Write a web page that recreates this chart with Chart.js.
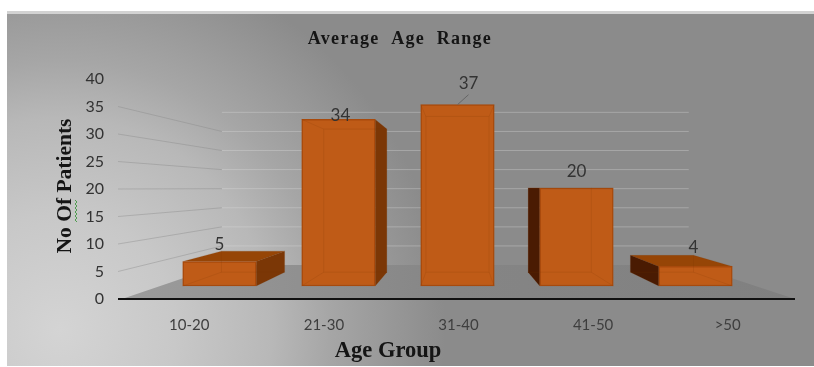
<!DOCTYPE html>
<html>
<head>
<meta charset="utf-8">
<title>Average Age Range</title>
<script src="https://cdn.jsdelivr.net/npm/chart.js@4/dist/chart.umd.min.js"></script>
<style>
  html, body { margin: 0; padding: 0; background: #fff; }
  canvas { display: block; }
</style>
</head>
<body>
<canvas id="chart-age" width="814" height="367"></canvas>
<script>
const categories = ['10-20', '21-30', '31-40', '41-50', '>50'];
const patients = [5, 34, 37, 20, 4];
const yTicks = [0, 5, 10, 15, 20, 25, 30, 35, 40];

// Front plane of the bars has its own hidden scales, the printed axes sit nearer the viewer
const frontY = { min: -2.653, max: 42.245 };
const frontX = { min: -0.819, max: 4.836 };
const barDepth = 0.859;  // how far a bar's back face shrinks toward the vanishing point
const wallDepth = 0.694; // same for the back wall

// Value label nudges relative to the top centre of each bar
const labelNudge = [[0, -17], [2, -4], [11, -21], [0, -16], [-2, -19]];

const serif = '"Liberation Serif", serif';
const sans = 'Lato, "Open Sans", sans-serif';

const scene3d = {
  id: 'scene3d',

  beforeDraw(chart) {
    const { ctx } = chart;
    const bg = ctx.createRadialGradient(60, 330, 0, 60, 330, 385);
    bg.addColorStop(0, '#d4d4d4');
    bg.addColorStop(0.3, '#c8c8c8');
    bg.addColorStop(0.55, '#b8b8b8');
    bg.addColorStop(0.7, '#a6a6a6');
    bg.addColorStop(1, '#8b8b8b');
    ctx.save();
    ctx.fillStyle = '#d2d2d2';
    ctx.fillRect(7, 11, 807, 3);
    ctx.fillStyle = bg;
    ctx.fillRect(7, 14, 807, 352);
    ctx.restore();
  },

  beforeDatasetsDraw(chart) {
    const { ctx, scales } = chart;
    const vp = scene3d.vanishing(chart);
    const wall = (x, y) => scene3d.project(vp, x, y, wallDepth);
    const axisY = scales.y;
    const base = axisY.getPixelForValue(0);

    ctx.save();

    // Floor
    const floor = ctx.createLinearGradient(122, 0, 795, 0);
    floor.addColorStop(0, '#9c9c9c');
    floor.addColorStop(0.5, '#858585');
    floor.addColorStop(1, '#808080');
    const bl = wall(118, base);
    const br = wall(795, base);
    ctx.fillStyle = floor;
    ctx.beginPath();
    ctx.moveTo(122, base);
    ctx.lineTo(795, base);
    ctx.lineTo(br[0], br[1]);
    ctx.lineTo(bl[0], bl[1]);
    ctx.closePath();
    ctx.fill();

    // Side wall and back wall gridlines
    ctx.lineWidth = 1;
    yTicks.filter(t => t > 0).forEach(t => {
      const y = axisY.getPixelForValue(t);
      const left = wall(118, y);
      const right = wall(795, y);
      if (t < 40) {
        ctx.strokeStyle = 'rgba(135, 135, 135, 0.4)';
        ctx.beginPath();
        ctx.moveTo(118, y);
        ctx.lineTo(left[0], left[1]);
        ctx.stroke();
      }
      ctx.strokeStyle = 'rgba(228, 228, 228, 0.32)';
      ctx.beginPath();
      ctx.moveTo(left[0], left[1]);
      ctx.lineTo(right[0] - 3, right[1]);
      ctx.stroke();
    });

    // Visible sides and tops of the bars
    chart.getDatasetMeta(0).data.forEach(bar => {
      const c = scene3d.corners(vp, bar);
      if (c.front.top > vp.y + 1) {
        scene3d.poly(ctx, '#964506', [[c.front.left, c.front.top], [c.front.right, c.front.top], [c.back.right, c.back.top], [c.back.left, c.back.top]]);
      }
      if (c.back.right > c.front.right) {
        scene3d.poly(ctx, '#7b3706', [[c.front.right, c.front.top], [c.back.right, c.back.top], [c.back.right, c.back.bottom], [c.front.right, c.front.bottom]]);
      }
      if (c.back.left < c.front.left) {
        scene3d.poly(ctx, '#4a1b02', [[c.front.left, c.front.top], [c.back.left, c.back.top], [c.back.left, c.back.bottom], [c.front.left, c.front.bottom]]);
      }
    });
    ctx.restore();
  },

  afterDatasetsDraw(chart) {
    const { ctx, scales } = chart;
    const vp = scene3d.vanishing(chart);
    const base = scales.y.getPixelForValue(0);

    ctx.save();

    // Back edges showing through the faces
    ctx.strokeStyle = 'rgba(125, 55, 5, 0.16)';
    ctx.lineWidth = 1;
    chart.getDatasetMeta(0).data.forEach(bar => {
      const c = scene3d.corners(vp, bar);
      ctx.strokeRect(c.back.left, c.back.top, c.back.right - c.back.left, c.back.bottom - c.back.top);
      [[c.front.left, c.front.top, c.back.left, c.back.top],
       [c.front.right, c.front.top, c.back.right, c.back.top],
       [c.front.left, c.front.bottom, c.back.left, c.back.bottom],
       [c.front.right, c.front.bottom, c.back.right, c.back.bottom]].forEach(e => {
        ctx.beginPath();
        ctx.moveTo(e[0], e[1]);
        ctx.lineTo(e[2], e[3]);
        ctx.stroke();
      });
    });

    // Base line runs slightly past the plot on the left
    ctx.strokeStyle = '#111';
    ctx.lineWidth = 2;
    ctx.beginPath();
    ctx.moveTo(118, base);
    ctx.lineTo(795, base);
    ctx.stroke();

    // Value labels
    ctx.fillStyle = '#333';
    ctx.font = '17px ' + sans;
    ctx.textAlign = 'center';
    ctx.textBaseline = 'middle';
    chart.getDatasetMeta(0).data.forEach((bar, i) => {
      ctx.fillText(String(patients[i]), bar.x + labelNudge[i][0], bar.y + labelNudge[i][1]);
    });

    // Leader line for the tallest bar
    const tall = chart.getDatasetMeta(0).data[2];
    ctx.strokeStyle = '#666';
    ctx.lineWidth = 1;
    ctx.beginPath();
    ctx.moveTo(tall.x + 11, tall.y - 10);
    ctx.lineTo(tall.x, tall.y);
    ctx.stroke();

    // Titles
    ctx.fillStyle = '#151515';
    ctx.font = 'bold 18px ' + serif;
    ctx.letterSpacing = '1.3px';
    ctx.fillText('Average  Age  Range', 400, 39);
    ctx.letterSpacing = '0px';
    ctx.font = 'bold 22.5px ' + serif;
    ctx.fillText('Age Group', 388, 351);
    ctx.font = 'bold 21.5px ' + serif;
    ctx.save();
    ctx.translate(65, 186);
    ctx.rotate(-Math.PI / 2);
    ctx.fillText('No Of Patients', 0, 0);
    ctx.restore();

    // Spell-check squiggle under "Of"
    ctx.strokeStyle = '#4f9d4f';
    ctx.beginPath();
    for (let y = 200, s = 0; y <= 222; y += 2, s++) {
      if (s === 0) ctx.moveTo(75, y);
      else ctx.lineTo(s % 2 ? 77 : 75, y);
    }
    ctx.stroke();

    ctx.restore();
  },

  vanishing(chart) {
    return { x: chart.scales.xFront.getPixelForValue(2), y: chart.scales.yFront.getPixelForValue(20) };
  },

  project(vp, x, y, k) {
    return [vp.x + k * (x - vp.x), vp.y + k * (y - vp.y)];
  },

  corners(vp, bar) {
    const front = { left: bar.x - bar.width / 2, right: bar.x + bar.width / 2, top: bar.y, bottom: bar.base };
    const a = scene3d.project(vp, front.left, front.top, barDepth);
    const b = scene3d.project(vp, front.right, front.bottom, barDepth);
    return { front, back: { left: a[0], top: a[1], right: b[0], bottom: b[1] } };
  },

  poly(ctx, color, pts) {
    ctx.fillStyle = color;
    ctx.beginPath();
    pts.forEach((p, i) => (i ? ctx.lineTo(p[0], p[1]) : ctx.moveTo(p[0], p[1])));
    ctx.closePath();
    ctx.fill();
  }
};

new Chart(document.getElementById('chart-age'), {
  type: 'bar',
  data: {
    labels: categories,
    datasets: [{
      label: 'No Of Patients',
      data: categories.map((c, i) => ({ x: i, y: patients[i] })),
      xAxisID: 'xFront',
      yAxisID: 'yFront',
      backgroundColor: '#bf5b17',
      borderColor: '#a84a0c',
      borderWidth: 1.5,
      borderSkipped: false,
      barThickness: 73.5
    }]
  },
  plugins: [scene3d],
  options: {
    responsive: false,
    animation: false,
    layout: { padding: { top: 79, right: 19, bottom: 0, left: 0 } },
    plugins: {
      legend: { display: false },
      tooltip: { enabled: false },
      title: { display: false }
    },
    scales: {
      x: {
        type: 'category',
        position: 'bottom',
        grid: { display: false, drawTicks: false },
        border: { display: false },
        ticks: { color: '#3e3e3e', font: { size: 15, family: sans }, padding: 17, maxRotation: 0 },
        afterFit: (s) => { s.height = 68; }
      },
      y: {
        position: 'left',
        min: 0,
        max: 40,
        afterBuildTicks: (s) => { s.ticks = yTicks.map(v => ({ value: v })); },
        grid: { display: false, drawTicks: false },
        border: { display: false },
        ticks: { color: '#333', font: { size: 16, family: sans }, padding: 18 },
        afterFit: (s) => { s.width = 122; }
      },
      xFront: { type: 'linear', display: false, offset: false, min: frontX.min, max: frontX.max, grid: { display: false } },
      yFront: { type: 'linear', display: false, min: frontY.min, max: frontY.max, grid: { display: false } }
    }
  }
});
</script>
</body>
</html>
